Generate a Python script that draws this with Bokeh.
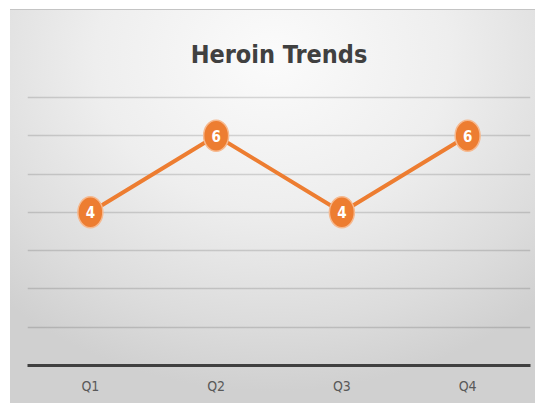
from bokeh.plotting import figure
from bokeh.models import Range1d, SingleIntervalTicker
from bokeh.core.properties import value
from bokeh.embed import file_html
from bokeh.resources import INLINE

title_text = "Heroin Trends"
quarters = ["Q1", "Q2", "Q3", "Q4"]
values = [4, 6, 4, 6]
labels = [str(v) for v in values]

ORANGE = "#ED7D31"
NARROW = "'DejaVu Sans Condensed', 'Liberation Sans Narrow', Roboto, sans-serif"

p = figure(
    width=525, height=394,
    x_range=quarters, y_range=Range1d(0, 7.05),
    output_backend="svg", toolbar_location=None,
    min_border_left=17, min_border_right=5,
    min_border_top=85, min_border_bottom=39,
    border_fill_color=None, background_fill_color=None,
    outline_line_color=None,
    margin=(9, 0, 0, 10),
)
p.styles = {
    "background-image": "radial-gradient(ellipse 75% 85% at 50% 12%, #fbfbfb 0%, #eeeeee 45%, #dcdcdc 80%, #d0d0d0 100%)",
    "border-top": "1px solid #c4c4c4",
}

p.title.text = title_text
p.title.align = "center"
p.title.text_font = NARROW
p.title.text_font_size = "25px"
p.title.text_font_style = "bold"
p.title.text_color = "#404040"
p.title.standoff = 54

p.yaxis.visible = False
p.ygrid.ticker = SingleIntervalTicker(interval=1)
p.ygrid.grid_line_color = "#000000"
p.ygrid.grid_line_alpha = 0.14
p.ygrid.grid_line_width = 1.3
p.xgrid.visible = False

ax = p.xaxis[0]
ax.axis_line_color = "#404040"
ax.axis_line_width = 3
ax.major_tick_line_color = None
ax.minor_tick_line_color = None
ax.major_label_text_font = NARROW
ax.major_label_text_font_size = "14px"
ax.major_label_text_color = "#595959"
ax.major_label_standoff = 6

p.line(quarters, values, line_color=ORANGE, line_width=4)
p.ellipse(quarters, values, width=25, height=31, width_units="screen", height_units="screen",
          fill_color=ORANGE, line_color="#f6b98f", line_width=1.5)
p.text(quarters, values, text=labels, text_color="white", text_font=value(NARROW),
       text_font_style="bold", text_font_size="15px", text_align="center", text_baseline="middle")

open("out.html", "w").write(file_html(p, INLINE))
